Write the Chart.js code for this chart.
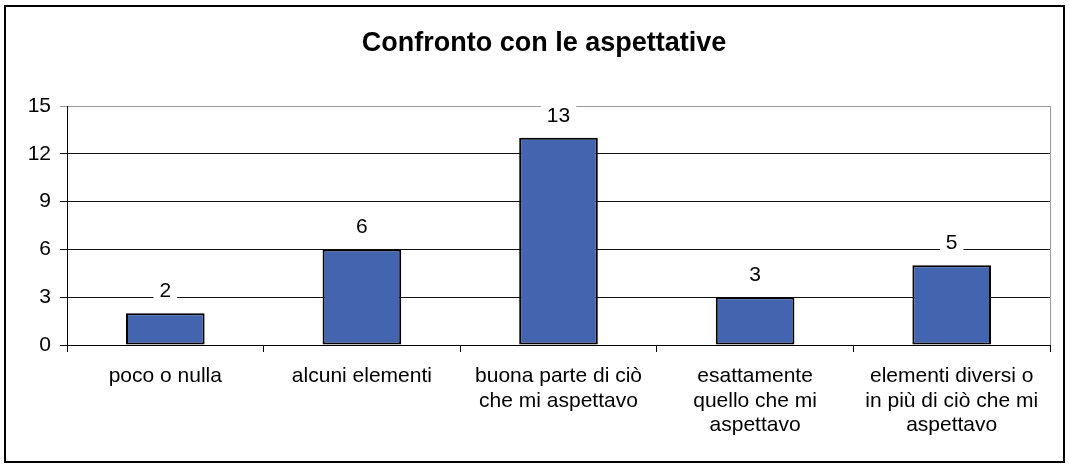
<!DOCTYPE html>
<html>
<head>
<meta charset="utf-8">
<script src="https://cdn.jsdelivr.net/npm/chart.js@4"></script>
<style>
	body { margin: 0; background: #fff; }
	#wrap { position: relative; width: 1069px; height: 466px; }
	#chart { position: absolute; left: 0; top: 0; }
	#frame { position: absolute; left: 4px; top: 5px; width: 1061px; height: 458px; box-sizing: border-box; border: 2px solid #000; pointer-events: none; }
</style>
</head>
<body>
<div id="wrap">
	<canvas id="chart" width="1069" height="466"></canvas>
	<div id="frame"></div>
</div>
<script>
const categories = [
	['poco o nulla'],
	['alcuni elementi'],
	['buona parte di ciò', 'che mi aspettavo'],
	['esattamente', 'quello che mi', 'aspettavo'],
	['elementi diversi o', 'in più di ciò che mi', 'aspettavo']
];
const values = [2, 6, 13, 3, 5];
const yTickValues = [0, 3, 6, 9, 12, 15];
const chartTitle = 'Confronto con le aspettative';

const barColor = '#4364AE';

Chart.defaults.font.family = '"Liberation Sans", Arial, sans-serif';
Chart.defaults.color = '#000';

// titolo disegnato a mano: nell'originale non e' centrato sul grafico
const titleText = {
	id: 'titleText',
	afterDraw(chart) {
		const ctx = chart.ctx;
		ctx.save();
		ctx.font = 'bold 27px "Liberation Sans", Arial, sans-serif';
		ctx.textAlign = 'center';
		ctx.textBaseline = 'middle';
		ctx.fillStyle = '#000';
		ctx.fillText(chartTitle, 544, 44);
		ctx.restore();
	}
};

// etichette sopra le barre con sfondo bianco (coprono la griglia)
const valueLabels = {
	id: 'valueLabels',
	afterDatasetsDraw(chart) {
		const ctx = chart.ctx;
		const meta = chart.getDatasetMeta(0);
		ctx.save();
		ctx.font = '21px "Liberation Sans", Arial, sans-serif';
		ctx.textAlign = 'center';
		ctx.textBaseline = 'middle';
		meta.data.forEach((bar, i) => {
			const text = String(values[i]);
			const w = ctx.measureText(text).width + 12;
			const cy = bar.y - 23;
			ctx.fillStyle = '#fff';
			ctx.fillRect(bar.x - w / 2, cy - 11, w, 22);
			ctx.fillStyle = '#000';
			ctx.fillText(text, bar.x, cy + 1);
		});
		ctx.restore();
	}
};

// bordo destro grigio dell'area del grafico
const plotEdge = {
	id: 'plotEdge',
	beforeDatasetsDraw(chart) {
		const { ctx, chartArea } = chart;
		ctx.save();
		ctx.strokeStyle = '#999';
		ctx.lineWidth = 1;
		ctx.beginPath();
		ctx.moveTo(chartArea.right + 0.5, chartArea.top);
		ctx.lineTo(chartArea.right + 0.5, chartArea.bottom);
		ctx.stroke();
		ctx.restore();
	}
};

new Chart(document.getElementById('chart').getContext('2d'), {
	type: 'bar',
	data: {
		labels: categories,
		datasets: [{
			data: values,
			backgroundColor: barColor,
			borderColor: '#000',
			borderWidth: 2,
			borderSkipped: false,
			barPercentage: 0.4,
			categoryPercentage: 1
		}]
	},
	options: {
		responsive: false,
		animation: false,
		layout: {
			padding: { left: 0, right: 19, top: 106, bottom: 0 }
		},
		scales: {
			y: {
				min: 0,
				max: 15,
				afterBuildTicks: scale => {
					scale.ticks = yTickValues.map(v => ({ value: v }));
				},
				afterFit: scale => { scale.width = 67; },
				ticks: {
					padding: 9,
					font: { size: 21 }
				},
				grid: {
					color: c => (c.tick && c.tick.value === 15 ? '#999' : '#111'),
					tickLength: 7
				},
				border: { color: '#000', width: 1 }
			},
			x: {
				afterFit: scale => { scale.height = 121; },
				ticks: {
					padding: 12,
					maxRotation: 0,
					font: { size: 21, lineHeight: 1.17 }
				},
				grid: {
					offset: true,
					drawOnChartArea: false,
					color: '#000',
					tickLength: 7
				},
				border: { color: '#000', width: 1 }
			}
		},
		plugins: {
			legend: { display: false },
			tooltip: { enabled: false },
			title: { display: false }
		}
	},
	plugins: [titleText, valueLabels, plotEdge]
});
</script>
</body>
</html>
